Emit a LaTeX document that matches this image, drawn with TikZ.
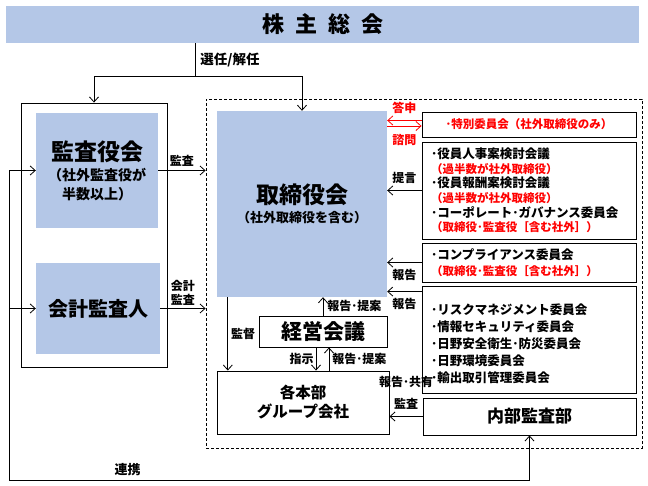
\documentclass[tikz,border=0pt]{standalone}
\usepackage{fontspec}
\setmainfont{Noto Sans CJK JP}
\usetikzlibrary{arrows.meta}
\definecolor{boxblue}{RGB}{180,199,231}
\definecolor{ared}{RGB}{255,0,0}

\begin{document}
\begin{tikzpicture}[x=1pt, y=-1pt, font=\bfseries,
  fb/.style = {fill=boxblue, inner sep=0pt, align=center},
  box/.style = {draw, line width=0.9pt, inner sep=0pt, align=center},
  cmte/.style = {draw, line width=0.9pt, minimum width=214pt, text width=196pt, inner xsep=9pt, inner ysep=0pt, align=left, font=\bfseries\fontsize{12.5}{14.6}\selectfont},
  arr/.style = {-{Straight Barb[length=5pt,width=9pt]}, line width=0.8pt},
  redarr/.style = {arr, draw=ared},
  lbl/.style = {inner sep=0pt, font=\bfseries\fontsize{12}{14}\selectfont}]
  \useasboundingbox (0,0) rectangle (648,486);

  % shareholders
  \node[fb, minimum width=633pt, minimum height=37pt, font=\bfseries\fontsize{22}{24}\selectfont] (ghm) at (322.5,24.5) {株\hspace{11pt}主\hspace{11pt}総\hspace{11pt}会};

  % audit side
  \node[box, minimum width=146pt, minimum height=264pt] (aud) at (94,235) {};
  \node[fb, minimum width=122pt, minimum height=115pt] (kansa) at (97,170.5)
    {{\fontsize{23}{27}\selectfont 監査役会}\\[5pt]
     {\fontsize{14}{16}\selectfont （社外監査役が}\\[4pt]
     {\fontsize{14}{16}\selectfont 半数以上）}};
  \node[fb, minimum width=124pt, minimum height=91pt, font=\bfseries\fontsize{20}{24}\selectfont] (kaikei) at (98,308.5) {会計監査人};

  % executive side
  \node[draw, dash pattern=on 3pt off 2pt, line width=0.8pt, minimum width=436pt, minimum height=349pt] (exec) at (424,273.5) {};
  \node[fb, minimum width=170pt, minimum height=186pt] (board) at (302,204)
    {{\fontsize{23}{27}\selectfont 取締役会}\\[4pt]
     {\fontsize{13}{16}\selectfont （社外取締役を含む）}};
  \node[box, minimum width=214pt, minimum height=25pt, text=ared, font=\bfseries\fontsize{11.5}{14}\selectfont] (special) at (529,124.5) {･特別委員会（社外取締役のみ）};
  \node[cmte, minimum height=97pt] (nom) at (529,190.5)
    {･役員人事案検討会議\\
     {\color{ared}\fontsize{11.5}{14}\selectfont （過半数が社外取締役）}\\
     ･役員報酬案検討会議\\
     {\color{ared}\fontsize{11.5}{14}\selectfont （過半数が社外取締役）}\\
     ･コーポレート･ガバナンス委員会\\
     {\color{ared}\fontsize{11.5}{14}\selectfont （取締役･監査役［含む社外］）}};
  \node[cmte, minimum height=39pt] (comp) at (529,262.5)
    {･コンプライアンス委員会\\[1.5pt]
     {\color{ared}\fontsize{11.5}{14}\selectfont （取締役･監査役［含む社外］）}};
  \node[cmte, minimum height=107pt, font=\bfseries\fontsize{12.5}{17}\selectfont] (risk) at (529,339.5)
    {\rule{0pt}{20pt}･リスクマネジメント委員会\\
     ･情報セキュリティ委員会\\
     ･日野安全衛生･防災委員会\\
     ･日野環境委員会\\
     ･輸出取引管理委員会};
  \node[box, minimum width=128pt, minimum height=31pt, font=\bfseries\fontsize{21}{24}\selectfont] (mgmt) at (323,331.5) {経営会議};
  \node[box, minimum width=172pt, minimum height=63pt, font=\bfseries\fontsize{15.5}{19}\selectfont] (div) at (303,402.5) {各本部\\グループ会社};
  \node[box, minimum width=213pt, minimum height=37pt, font=\bfseries\fontsize{17}{20}\selectfont] (naibu) at (529.5,416.5) {内部監査部};

  % election
  \coordinate (sel) at (195,76);
  \draw[line width=0.8pt] (sel |- ghm.south) -- (sel)
    node[lbl, midway, right=5pt, font=\bfseries\fontsize{13.5}{15}\selectfont] (selnm) {選任/解任};
  \draw[arr] (sel) -| (aud.north);
  \draw[arr] (sel) -| (board.north);

  % audits
  \draw[arr] (kansa.east) -- (kansa.east -| exec.west) node[lbl, midway, above=4pt] (kansanm) {監査};
  \draw[arr] (kaikei.east) -- (kaikei.east -| exec.west) node[lbl, midway, above=3pt, align=center] (kaikeinm) {会計\\監査};

  % liaison
  \coordinate (lk) at (9,480);
  \draw[arr] (lk) |- (kansa.west);
  \draw[arr] (lk) |- (kaikei.west);
  \draw[arr] (lk) -| (naibu.south) node[lbl, pos=0.114, above=4pt, font=\bfseries\fontsize{13}{15}\selectfont] (renkei) {連携};

  % committees to board
  \draw[redarr] ([yshift=4pt]special.west) -- ([yshift=4pt]special.west -| board.east)
    node[lbl, midway, above=6pt, text=ared] (toshin) {答申};
  \draw[redarr] ([yshift=-1.5pt]special.west -| board.east) -- ([yshift=-1.5pt]special.west)
    node[lbl, midway, below=8pt, text=ared] (shimon) {諮問};
  \draw[arr] (nom.west) -- (nom.west -| board.east) node[lbl, midway, above=6pt] (teigen) {提言};
  \draw[arr] (comp.west) -- (comp.west -| board.east) node[lbl, midway, below=6pt] (hok1) {報告};
  \draw[arr] ([yshift=-6pt]risk.north west) -- ([yshift=-6pt]risk.north west -| board.east)
    node[lbl, midway, below=6pt] (hok2) {報告};

  % management
  \draw[arr] (mgmt.north) -- (mgmt.north |- board.south) node[lbl, midway, right=4pt] (teian1) {報告･提案};
  \draw[arr] ([xshift=11pt]board.south west) -- ([xshift=11pt]board.south west |- div.north)
    node[lbl, midway, right=3pt] (kantoku) {監督};
  \draw[arr] ([xshift=-7pt]mgmt.south) -- ([xshift=-7pt]mgmt.south |- div.north)
    node[lbl, midway, left=2pt] (shiji) {指示};
  \draw[arr] ([xshift=6pt]mgmt.south |- div.north) -- ([xshift=6pt]mgmt.south)
    node[lbl, midway, right=3pt] (teian2) {報告･提案};
  \draw[arr] (naibu.west) -- (naibu.west -| div.east) node[lbl, midway, above=7pt] (kansa2) {監査};
  \node[lbl] (kyoyu) at (406,382) {報告･共有};
\end{tikzpicture}
\end{document}
